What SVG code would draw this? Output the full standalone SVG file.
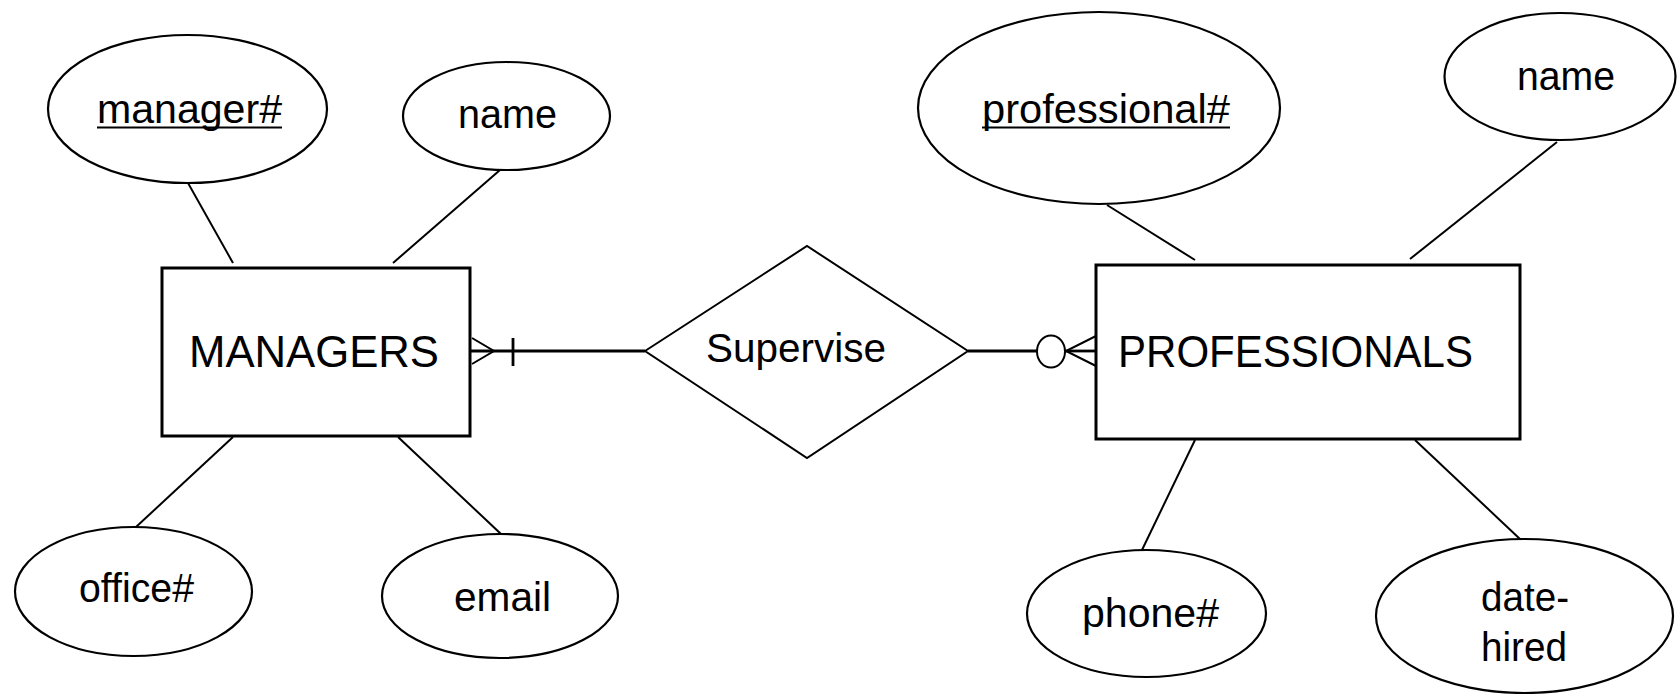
<svg xmlns="http://www.w3.org/2000/svg" width="1678" height="694" viewBox="0 0 1678 694">
<style>
.bg{fill:#fff}
.ent{fill:#fff;stroke:#000;stroke-width:3}
.att{fill:#fff;stroke:#000;stroke-width:2.2}
.rel{fill:#fff;stroke:#000;stroke-width:2}
.ln{stroke:#000;stroke-width:2;fill:none}
.hl{stroke:#000;stroke-width:2.8;fill:none}
.t{font-family:"Liberation Sans",Arial,sans-serif;font-size:40px;fill:#000;text-anchor:middle}
.T{font-family:"Liberation Sans",Arial,sans-serif;font-size:44px;fill:#000;text-anchor:middle}
.u{stroke:#000;stroke-width:2.2}
</style>
<rect class="bg" x="0" y="0" width="1678" height="694"/>
<g id="connectors">
<line class="ln" x1="188" y1="183" x2="233" y2="263"/>
<line class="ln" x1="500" y1="170" x2="393" y2="263"/>
<line class="ln" x1="233" y1="437" x2="136" y2="527"/>
<line class="ln" x1="398" y1="437" x2="501" y2="534"/>
<line class="ln" x1="1107" y1="205" x2="1195" y2="260"/>
<line class="ln" x1="1557" y1="142" x2="1410" y2="259"/>
<line class="ln" x1="1195" y1="440" x2="1142" y2="550"/>
<line class="ln" x1="1415" y1="440" x2="1521" y2="540"/>
<line class="hl" x1="470" y1="351" x2="645" y2="351"/>
<polyline class="ln" points="472,338 494,351 472,364"/>
<line class="hl" x1="513" y1="338" x2="513" y2="366"/>
<line class="hl" x1="968" y1="351" x2="1037" y2="351"/>
<ellipse class="ln" cx="1051" cy="351.5" rx="14" ry="16"/>
<line class="hl" x1="1065" y1="351" x2="1096" y2="351"/>
<polyline class="ln" points="1096,336 1066,351 1096,366"/>
</g>
<g id="MANAGERS">
<rect class="ent" x="162" y="268" width="308" height="168"/>
<text class="T" x="314" y="367" textLength="250" lengthAdjust="spacingAndGlyphs">MANAGERS</text>
</g>
<g id="PROFESSIONALS">
<rect class="ent" x="1096" y="265" width="424" height="174"/>
<text class="T" x="1295.5" y="367" textLength="355" lengthAdjust="spacingAndGlyphs">PROFESSIONALS</text>
</g>
<g id="Supervise">
<polygon class="rel" points="645,351 807,246 968,351 807,458"/>
<text class="t" x="796" y="362" font-size="42" textLength="180" lengthAdjust="spacingAndGlyphs">Supervise</text>
</g>
<g id="attr-manager-num">
<ellipse class="att" cx="187.5" cy="109" rx="139.5" ry="74"/>
<text class="t" x="189.5" y="123" textLength="185" lengthAdjust="spacingAndGlyphs">manager#</text>
<line class="u" x1="97" y1="127.5" x2="282" y2="127.5"/>
</g>
<g id="attr-manager-name">
<ellipse class="att" cx="506.5" cy="116" rx="103.5" ry="54"/>
<text class="t" x="507.5" y="128" textLength="99" lengthAdjust="spacingAndGlyphs">name</text>
</g>
<g id="attr-office">
<ellipse class="att" cx="133.5" cy="591.5" rx="118.5" ry="64.5"/>
<text class="t" x="136.5" y="602" textLength="115" lengthAdjust="spacingAndGlyphs">office#</text>
</g>
<g id="attr-email">
<ellipse class="att" cx="500" cy="596" rx="118" ry="62"/>
<text class="t" x="502.5" y="611" textLength="97" lengthAdjust="spacingAndGlyphs">email</text>
</g>
<g id="attr-professional-num">
<ellipse class="att" cx="1099" cy="108" rx="181" ry="96"/>
<text class="t" x="1106" y="123" textLength="248" lengthAdjust="spacingAndGlyphs">professional#</text>
<line class="u" x1="982" y1="127.5" x2="1230" y2="127.5"/>
</g>
<g id="attr-professional-name">
<ellipse class="att" cx="1560" cy="76.5" rx="115.5" ry="63.5"/>
<text class="t" x="1566" y="90" textLength="98" lengthAdjust="spacingAndGlyphs">name</text>
</g>
<g id="attr-phone">
<ellipse class="att" cx="1146.5" cy="613.5" rx="119.5" ry="63.5"/>
<text class="t" x="1150.5" y="627" textLength="137" lengthAdjust="spacingAndGlyphs">phone#</text>
</g>
<g id="attr-date-hired">
<ellipse class="att" cx="1524.5" cy="616" rx="148.5" ry="77"/>
<text class="t" x="1525" y="611" textLength="88" lengthAdjust="spacingAndGlyphs">date-</text>
<text class="t" x="1524" y="661" textLength="86" lengthAdjust="spacingAndGlyphs">hired</text>
</g>
</svg>
